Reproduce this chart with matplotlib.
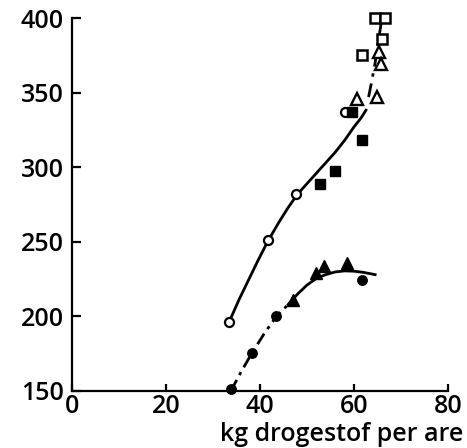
import matplotlib
matplotlib.use("Agg")
import matplotlib.pyplot as plt

# --- data ---
open_circle_x = [33.4, 41.6, 47.6, 58.1]
open_circle_y = [196, 251, 282, 337]
filled_square_x = [52.8, 56.0, 59.5, 61.6]
filled_square_y = [288.5, 297.5, 337, 318]
open_triangle_x = [60.7, 64.8, 65.3, 65.7]
open_triangle_y = [346, 347, 377, 369]
open_square_x = [64.5, 66.7, 66.0, 61.8]
open_square_y = [400, 400, 386, 375]
filled_circle_x = [33.8, 38.4, 43.5, 61.6]
filled_circle_y = [151.5, 175.5, 200, 224.5]
filled_triangle_x = [47.1, 51.9, 53.7, 58.6]
filled_triangle_y = [211, 229, 234, 236]

# fitted curves (knots)
upper_solid_x = [33.4, 35.5, 37.5, 39.5, 41.6, 44, 46, 48, 50, 52, 54, 56, 58, 60, 61.5, 62.7]
upper_solid_y = [196, 211, 224, 237, 250, 263, 273, 282, 289, 296, 303, 310, 318, 327, 333, 339]
upper_dash_x = [63.1, 63.8, 64.5, 65.2, 65.8]
upper_dash_y = [347, 358, 370, 385, 397]
lower_dash_x = [33.8, 36, 38.4, 41, 43.5, 46]
lower_dash_y = [150, 163, 176, 189, 200, 208]
lower_solid_x = [46, 48, 50, 52, 54, 56, 58, 60, 62, 64.5]
lower_solid_y = [208, 215, 221, 225.5, 228, 229.8, 230.5, 230.3, 229.5, 228]

x_ticks = [0, 20, 40, 60, 80]
y_ticks = [150, 200, 250, 300, 350, 400]
x_label = "kg drogestof per are"

plt.rcParams['font.family'] = ['Open Sans', 'DejaVu Sans']
plt.rcParams['font.weight'] = 'semibold'

fig = plt.figure(figsize=(4.67, 4.48), dpi=100)
ax = fig.add_axes([72/467, 1-391/448, (448-72)/467, (391-18)/448])
ax.set_xlim(0, 80)
ax.set_ylim(150, 400)

lw = 2.0
ax.plot(upper_solid_x, upper_solid_y, color='black', lw=lw, solid_capstyle='butt')
ax.plot(upper_dash_x, upper_dash_y, color='black', lw=lw, linestyle=(0, (5, 2.5, 1.2, 2.5)))
ax.plot(lower_dash_x, lower_dash_y, color='black', lw=lw, linestyle=(0, (4.5, 2, 1.2, 2)))
ax.plot(lower_solid_x, lower_solid_y, color='black', lw=lw)

mk = dict(linestyle='none', clip_on=False, zorder=3)
ax.plot(open_circle_x, open_circle_y, marker='o', ms=6.5, mfc='white', mec='black', mew=1.6, **mk)
ax.plot(filled_square_x, filled_square_y, marker='s', ms=6.5, mfc='black', mec='black', **mk)
ax.plot(open_triangle_x, open_triangle_y, marker='^', ms=8, mfc='white', mec='black', mew=1.7, **mk)
ax.plot(open_square_x, open_square_y, marker='s', ms=6.5, mfc='white', mec='black', mew=1.8, **mk)
ax.plot(filled_circle_x, filled_circle_y, marker='o', ms=6.8, mfc='black', mec='black', **mk)
ax.plot(filled_triangle_x, filled_triangle_y, marker='^', ms=8.5, mfc='black', mec='black', **mk)

for s in ['top', 'right']:
    ax.spines[s].set_visible(False)
for s in ['left', 'bottom']:
    ax.spines[s].set_linewidth(1.6)

ax.set_xticks(x_ticks)
ax.set_yticks(y_ticks)
ax.tick_params(axis='both', direction='in', width=1.6, labelsize=18)
ax.tick_params(axis='x', length=5, pad=2.5)
ax.tick_params(axis='y', length=6.5, pad=6)

fig.text(463/467, 1-441/448, x_label, ha='right', va='baseline', fontsize=18, fontweight='semibold')

fig.savefig("out.png", dpi=100)
